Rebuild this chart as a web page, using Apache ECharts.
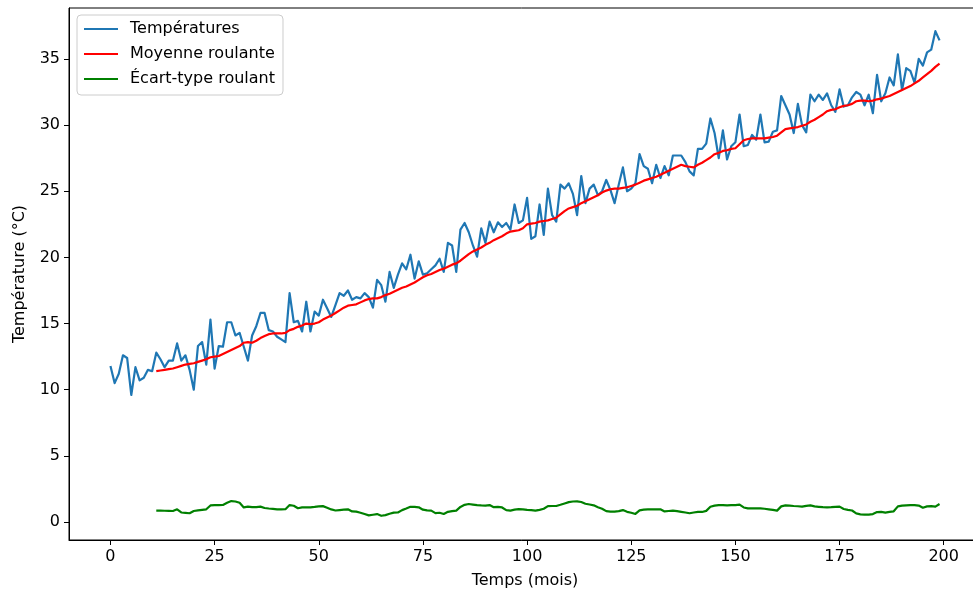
<!DOCTYPE html>
<html>
<head>
<meta charset="utf-8">
<title>Températures</title>
<script src="https://cdn.jsdelivr.net/npm/echarts@6/dist/echarts.min.js"></script>
<style>
  html, body { margin: 0; padding: 0; background: #fff; }
  #chart { width: 973px; height: 590px; }
</style>
</head>
<body>
<div id="chart"></div>
<script>
// valeurs (mois 0..199)
var temperatures = [
  11.8, 10.5, 11.2, 12.6, 12.4, 9.6, 11.7, 10.7, 10.9, 11.5,
  11.4, 12.8, 12.3, 11.7, 12.2, 12.2, 13.5, 12.2, 12.6, 11.5,
  10.0, 13.3, 13.6, 11.9, 15.3, 11.6, 13.3, 13.25, 15.1, 15.1,
  14.1, 14.3, 13.25, 12.2, 14.1, 14.8, 15.8, 15.8, 14.5, 14.4,
  14.0, 13.8, 13.6, 17.3, 15.1, 15.2, 14.4, 16.65, 14.4, 15.9,
  15.6, 16.8, 16.15, 15.5, 16.4, 17.3, 17.1, 17.5, 16.8, 17.0,
  16.9, 17.3, 17.0, 16.2, 18.3, 17.9, 16.65, 18.9, 17.7, 18.7,
  19.55, 19.1, 20.2, 18.4, 19.7, 18.7, 18.8, 19.1, 19.4, 19.9,
  18.9, 21.1, 20.9, 18.9, 22.1, 22.6, 21.9, 20.9, 20.05, 22.2,
  21.1, 22.7, 21.9, 22.65, 22.3, 22.6, 22.1, 24.0, 22.6, 22.8,
  24.5, 21.4, 21.6, 24.0, 21.7, 25.2, 23.2, 22.7, 25.5, 25.2,
  25.6, 24.8, 23.2, 26.15, 24.1, 25.2, 25.5, 24.7, 25.0, 25.85,
  25.1, 24.1, 25.5, 26.8, 25.0, 25.2, 25.6, 27.8, 26.9, 26.7,
  25.6, 27.0, 26.0, 26.9, 26.2, 27.7, 27.7, 27.7, 27.2, 26.5,
  26.2, 28.2, 28.2, 28.6, 30.5, 29.4, 27.5, 29.6, 27.4, 28.4,
  28.7, 30.8, 28.4, 28.5, 29.25, 28.9, 30.8, 28.7, 28.75, 29.5,
  29.6, 32.2, 31.5, 30.8, 29.4, 31.6, 30.0, 29.45, 32.3, 31.8,
  32.3, 31.9, 32.4, 31.5, 31.0, 32.7, 31.4, 31.5, 32.1, 32.5,
  32.3, 31.5, 32.3, 30.9, 33.8, 31.8, 32.4, 33.6, 33.0, 35.35,
  32.65, 34.3, 34.1, 33.2, 35.0, 34.5, 35.5, 35.7, 37.1, 36.4
];

// moyenne et écart-type roulants : commencent au mois 11
var rollStart = 11;
var rollingMean = [
  11.40, 11.45, 11.50, 11.55, 11.60, 11.70, 11.80, 11.90, 11.95, 12.00,
  12.10, 12.20, 12.30, 12.45, 12.50, 12.55, 12.70, 12.85, 13.00, 13.15,
  13.30, 13.55, 13.60, 13.55, 13.70, 13.90, 14.05, 14.20, 14.25, 14.25,
  14.25, 14.30, 14.50, 14.60, 14.75, 14.85, 15.00, 14.95, 15.00, 15.10,
  15.30, 15.45, 15.60, 15.80, 16.00, 16.20, 16.35, 16.40, 16.45, 16.60,
  16.75, 16.85, 16.90, 16.90, 17.00, 17.15, 17.25, 17.40, 17.55, 17.70,
  17.80, 17.95, 18.10, 18.30, 18.50, 18.65, 18.75, 18.90, 19.05, 19.15,
  19.30, 19.45, 19.55, 19.75, 20.00, 20.25, 20.45, 20.60, 20.75, 20.95,
  21.10, 21.30, 21.45, 21.60, 21.80, 21.95, 22.00, 22.05, 22.20, 22.50,
  22.55, 22.60, 22.70, 22.75, 22.80, 22.90, 23.00, 23.25, 23.50, 23.70,
  23.80, 23.90, 24.10, 24.25, 24.40, 24.55, 24.70, 24.90, 25.05, 25.15,
  25.20, 25.20, 25.25, 25.30, 25.40, 25.50, 25.65, 25.80, 25.90, 26.00,
  26.10, 26.25, 26.40, 26.55, 26.70, 26.85, 27.00, 26.90, 26.85, 26.80,
  27.00, 27.15, 27.35, 27.55, 27.80, 27.90, 28.05, 28.10, 28.20, 28.25,
  28.55, 28.85, 28.95, 29.00, 29.00, 29.00, 29.00, 29.05, 29.10, 29.20,
  29.45, 29.70, 29.75, 29.80, 29.85, 29.95, 30.05, 30.25, 30.40, 30.60,
  30.80, 31.05, 31.15, 31.20, 31.35, 31.45, 31.50, 31.60, 31.80, 31.85,
  31.85, 31.80, 31.85, 31.95, 32.00, 32.10, 32.20, 32.35, 32.50, 32.65,
  32.80, 32.95, 33.15, 33.35, 33.60, 33.85, 34.10, 34.40, 34.65
];
var rollingStd = [
  0.86, 0.86, 0.85, 0.84, 0.83, 0.96, 0.72, 0.69, 0.66, 0.83,
  0.88, 0.92, 0.96, 1.25, 1.27, 1.28, 1.29, 1.45, 1.58, 1.55,
  1.45, 1.10, 1.16, 1.12, 1.12, 1.16, 1.06, 1.02, 0.99, 0.96,
  0.96, 0.97, 1.28, 1.23, 1.04, 1.10, 1.11, 1.11, 1.14, 1.18,
  1.20, 1.08, 0.95, 0.87, 0.90, 0.93, 0.96, 0.80, 0.78, 0.70,
  0.60, 0.50, 0.55, 0.60, 0.47, 0.52, 0.62, 0.71, 0.72, 0.90,
  1.02, 1.15, 1.14, 1.11, 0.93, 0.88, 0.86, 0.67, 0.70, 0.61,
  0.77, 0.82, 0.86, 1.14, 1.30, 1.36, 1.32, 1.28, 1.25, 1.24,
  1.28, 1.12, 1.14, 1.10, 0.90, 0.86, 0.94, 0.98, 0.96, 0.92,
  0.90, 0.86, 0.92, 1.00, 1.20, 1.21, 1.21, 1.30, 1.40, 1.50,
  1.55, 1.56, 1.51, 1.38, 1.32, 1.26, 1.12, 1.00, 0.82, 0.78,
  0.78, 0.82, 0.90, 0.77, 0.70, 0.61, 0.88, 0.94, 0.96, 0.96,
  0.96, 0.96, 0.80, 0.83, 0.86, 0.82, 0.77, 0.72, 0.66, 0.72,
  0.76, 0.76, 0.84, 1.15, 1.24, 1.28, 1.27, 1.26, 1.27, 1.28,
  1.31, 1.10, 1.03, 1.03, 1.03, 1.03, 1.00, 0.96, 0.92, 0.86,
  1.18, 1.26, 1.24, 1.21, 1.19, 1.16, 1.22, 1.26, 1.18, 1.15,
  1.12, 1.11, 1.12, 1.14, 1.16, 0.98, 0.92, 0.87, 0.65, 0.58,
  0.56, 0.56, 0.60, 0.75, 0.76, 0.71, 0.76, 0.81, 1.18, 1.24,
  1.26, 1.27, 1.28, 1.24, 1.08, 1.18, 1.20, 1.16, 1.36
];

var xTicks = [0, 25, 50, 75, 100, 125, 150, 175, 200];
var yTicks = [0, 5, 10, 15, 20, 25, 30, 35];

var font = 'DejaVu Sans';
var fontSize = 16;

function toPoints(values, start) {
    var pts = [];
    for (var i = 0; i < values.length; i++) {
        pts.push([start + i, values[i]]);
    }
    return pts;
}

function lineSeries(name, values, start, color) {
    return {
        name: name,
        type: 'line',
        data: toPoints(values, start),
        showSymbol: false,
        symbol: 'none',
        smooth: false,
        lineStyle: { color: color, width: 2.2, cap: 'butt', join: 'round' },
        itemStyle: { color: color },
        emphasis: { disabled: true }
    };
}

var myChart = echarts.init(document.getElementById('chart'), null, { renderer: 'canvas' });
myChart.setOption({
    animation: false,
    backgroundColor: '#fff',
    textStyle: { fontFamily: font },
    grid: {
        left: 69, top: 8, width: 912, height: 532,
        containLabel: false,
        outerBoundsMode: 'none',
        show: true, borderColor: '#000', borderWidth: 1, backgroundColor: 'transparent'
    },
    legend: {
        orient: 'vertical',
        left: 77, top: 15,
        padding: [5, 8, 7, 6],
        itemWidth: 34, itemHeight: 18, itemGap: 7,
        backgroundColor: 'rgba(255,255,255,0.8)',
        borderColor: '#cccccc', borderWidth: 1, borderRadius: 4,
        itemStyle: { opacity: 0 },
        textStyle: { color: '#000', fontFamily: font, fontSize: fontSize, lineHeight: 18, padding: [0, 0, 0, 7] },
        data: ['Températures', 'Moyenne roulante', 'Écart-type roulant']
    },
    xAxis: {
        type: 'value',
        min: -9.95, max: 208.95,
        name: 'Temps (mois)',
        nameLocation: 'middle', nameGap: 33,
        nameTextStyle: { color: '#000', fontFamily: font, fontSize: fontSize },
        axisLine: { show: true, onZero: false, lineStyle: { color: '#000', width: 1 } },
        axisTick: { show: true, customValues: xTicks, length: 5, lineStyle: { color: '#000', width: 1 } },
        axisLabel: { customValues: xTicks, color: '#000', fontFamily: font, fontSize: fontSize, margin: 9 },
        splitLine: { show: false }
    },
    yAxis: {
        type: 'value',
        min: -1.36, max: 38.85,
        name: 'Température (°C)',
        nameLocation: 'middle', nameGap: 41, nameRotate: 90,
        nameTextStyle: { color: '#000', fontFamily: font, fontSize: fontSize },
        axisLine: { show: true, onZero: false, lineStyle: { color: '#000', width: 1 } },
        axisTick: { show: true, customValues: yTicks, length: 5, lineStyle: { color: '#000', width: 1 } },
        axisLabel: { customValues: yTicks, color: '#000', fontFamily: font, fontSize: fontSize, margin: 9 },
        splitLine: { show: false }
    },
    series: [
        lineSeries('Températures', temperatures, 0, '#1f77b4'),
        lineSeries('Moyenne roulante', rollingMean, rollStart, '#ff0000'),
        lineSeries('Écart-type roulant', rollingStd, rollStart, '#008000')
    ]
});
</script>
</body>
</html>
